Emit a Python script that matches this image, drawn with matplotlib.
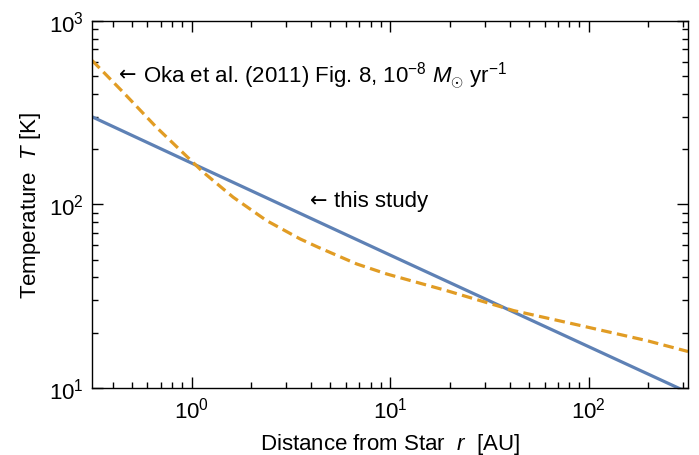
import numpy as np
import matplotlib
matplotlib.use("Agg")
import matplotlib.pyplot as plt

# this study: straight power law, read at a few radii
r_study = [0.316, 1.0, 10.0, 100.0, 317.0]
T_study = [300.0, 168.0, 53.0, 16.8, 9.45]

# Oka et al. (2011) Fig. 8
r_oka = [0.316, 0.452, 0.666, 1.144, 1.62, 2.39, 3.52, 4.35, 6.79, 9.62,
         19.3, 41.9, 90.8, 197.0, 317.0]
T_oka = [608.0, 409.0, 263.0, 150.0, 109.5, 81.6, 64.9, 58.4, 47.4, 41.8,
         33.9, 26.4, 21.9, 18.1, 15.8]

plt.rcParams['font.family'] = ['Liberation Sans', 'DejaVu Sans']
plt.rcParams['mathtext.fontset'] = 'custom'
plt.rcParams['mathtext.rm'] = 'Liberation Sans'
plt.rcParams['mathtext.it'] = 'Liberation Sans:italic'
plt.rcParams['font.size'] = 16

blue = '#5E81B5'
orange = '#E19C24'

fig = plt.figure(figsize=(6.99, 4.56), dpi=100)
ax = fig.add_axes([0.132, 0.147, 0.852, 0.805])

ax.plot(r_study, T_study, color=blue, lw=2.3)
ax.plot(r_oka, T_oka, color=orange, lw=2.3, ls=(0, (3.3, 1.7)))

ax.set_xscale('log')
ax.set_yscale('log')
ax.set_xlim(10**-0.5, 10**2.5)
ax.set_ylim(10, 1000)

ax.tick_params(which='both', direction='in', top=True, right=True, width=1.0)
ax.tick_params(which='major', length=8, pad=6)
ax.tick_params(which='minor', length=4)
for s in ax.spines.values():
    s.set_linewidth(1.0)

ax.set_xlabel(r'Distance from Star  $\it{r}$  [AU]', labelpad=6)
ax.set_ylabel(r'Temperature  $\it{T}$ [K]', labelpad=4)

# labels: arrow glyph in DejaVu (wider), text in Liberation Sans
labels = [
    (0.43, 508, 'Oka et al. (2011) Fig. 8, $10^{-8}$ $M_{\\odot}$ yr$^{-1}$'),
    (3.95, 105, 'this study'),
]
for x, y, s in labels:
    ax.text(x, y, '\u2190', family='DejaVu Sans', fontsize=15, ha='left', va='center')
    ax.annotate(s, (x, y), xytext=(17.5, 0), textcoords='offset points',
                ha='left', va='center')

fig.savefig('out.png', dpi=100)
